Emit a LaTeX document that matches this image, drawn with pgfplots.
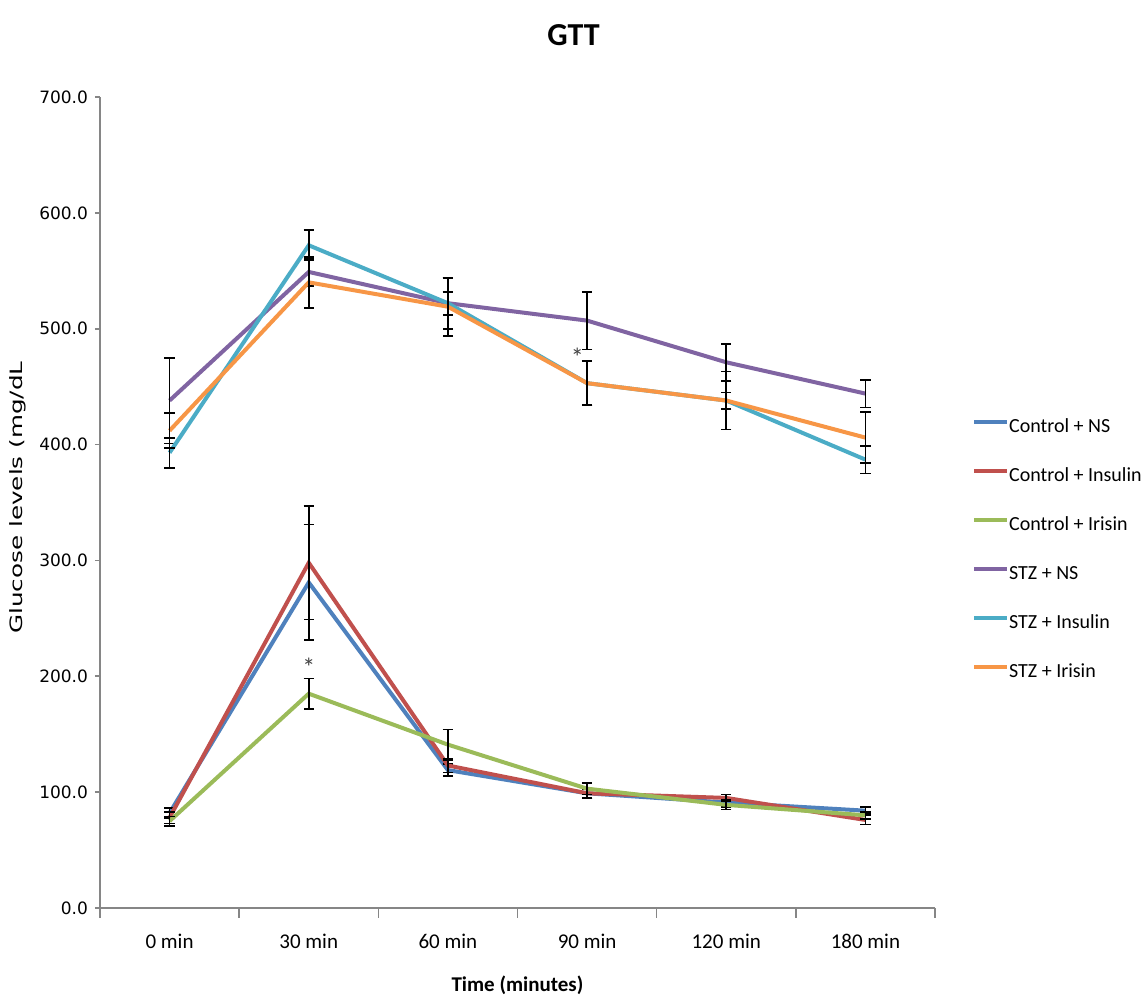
\documentclass[border=0pt]{standalone}
\usepackage{pgfplots}
\pgfplotsset{compat=1.18}
\usepackage{fontspec}
\setmainfont{Carlito}
\newfontfamily\dejavu{DejaVu Sans}
\newfontfamily\dejavuwide[FakeStretch=1.45]{DejaVu Sans}
\definecolor{cNS}{HTML}{4F81BD}
\definecolor{cIns}{HTML}{C0504D}
\definecolor{cIri}{HTML}{9BBB59}
\definecolor{sNS}{HTML}{8064A2}
\definecolor{sIns}{HTML}{4BACC6}
\definecolor{sIri}{HTML}{F79646}
\definecolor{axgray}{HTML}{868686}
\begin{document}
\begin{tikzpicture}
\useasboundingbox (-50pt,-46pt) rectangle (523.5pt,454pt);
\begin{axis}[
  scale only axis,
  width=417.5pt, height=405.5pt,
  at={(0pt,0pt)}, anchor=south west,
  xmin=-0.5, xmax=5.5, ymin=0, ymax=700,
  axis x line*=bottom, axis y line*=left,
  axis line style={-, draw=axgray, line width=0.8pt},
  tick align=outside,
  xtick={0,1,2,3,4,5},
  xticklabels={0 min,30 min,60 min,90 min,120 min,180 min},
  minor xtick={-0.5,0.5,1.5,2.5,3.5,4.5,5.5},
  major x tick style={draw=none},
  minor x tick style={draw=axgray, line width=0.8pt},
  minor tick length=5pt,
  ytick={0,100,200,300,400,500,600,700},
  major y tick style={draw=axgray, line width=0.8pt},
  major tick length=2.5pt,
  yticklabel style={font=\dejavu\fontsize{8.5}{10}\selectfont},
  xticklabel style={font=\fontsize{10.5}{12}\selectfont, anchor=center, yshift=-14pt},
  /pgf/number format/.cd, fixed, fixed zerofill, precision=1, assume math mode=true,
  /pgfplots/.cd,
  xlabel={Time (minutes)},
  xlabel style={font=\bfseries\fontsize{10.5}{12}\selectfont, at={(axis description cs:0.5,0)}, anchor=center, yshift=-38.5pt},
  ylabel={Glucose levels (mg/dL},
  ylabel style={font=\dejavuwide\fontsize{8.5}{10}\selectfont, at={(axis description cs:0,0.506)}, anchor=center, yshift=41pt},
  clip=false,
  legend cell align=left,
  legend style={at={(axis description cs:1.044,0.604)}, anchor=north west, draw=none, fill=none,
    font=\fontsize{10}{12}\selectfont, inner sep=0pt, row sep=15.5pt,
    nodes={inner sep=0pt, text height=7pt, text depth=2pt}},
  legend image code/.code={\draw[#1, line width=2pt] (0pt,3pt) -- (16.5pt,3pt);},
  every axis plot/.append style={line width=2pt},
  error bars/y dir=both, error bars/y explicit,
  error bars/error bar style={black, line width=0.9pt},
  error bars/error mark=-,
  error bars/error mark options={rotate=90, black, line width=0.9pt, mark size=2.6pt},
]
\addplot[cNS] table[x=x, y=y, y error=e] {
x y e
0 82 4
1 281 50
2 119 5
3 99 4
4 91 4
5 84 3
};
\addlegendentry{Control + NS}
\addplot[cIns] table[x=x, y=y, y error=e] {
x y e
0 78 5
1 298 49
2 123 6
3 99 4
4 95 3
5 76 4
};
\addlegendentry{Control + Insulin}
\addplot[cIri] table[x=x, y=y, y error=e] {
x y e
0 75 4
1 185 13
2 141 13
3 103 5
4 89 4
5 80 3
};
\addlegendentry{Control + Irisin}
\addplot[sNS] table[x=x, y=y, y error=e] {
x y e
0 438 37
1 549 12
2 522 22
3 507 25
4 471 16
5 444 12
};
\addlegendentry{STZ + NS}
\addplot[sIns] table[x=x, y=y, y error=e] {
x y e
0 393 13
1 572 13
2 522 10
3 453 19
4 438 25
5 387 12
};
\addlegendentry{STZ + Insulin}
\addplot[sIri] table[x=x, y=y, y error=e] {
x y e
0 412 15
1 540 22
2 519 25
3 453 19
4 438 7
5 406 22
};
\addlegendentry{STZ + Irisin}
\node[font=\fontsize{13}{14}\selectfont, text=black!75] at (axis cs:2.93,475) {*};
\node[font=\fontsize{13}{14}\selectfont, text=black!75] at (axis cs:1.0,208) {*};
\end{axis}
\node[font=\bfseries\fontsize{16}{19}\selectfont] at (236.75pt,436.5pt) {GTT};
\end{tikzpicture}
\end{document}
